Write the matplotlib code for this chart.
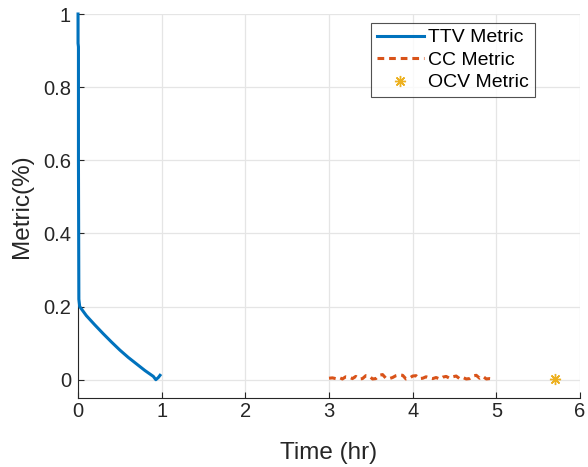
import matplotlib
matplotlib.use("Agg")
import matplotlib.pyplot as plt
import numpy as np

plt.rcParams['font.family'] = ['Liberation Sans', 'DejaVu Sans']

# TTV metric
ttv_time = [0.0, 0.0, 0.005, 0.005, 0.01, 0.02, 0.1, 0.2, 0.3, 0.4, 0.5, 0.6, 0.7, 0.8, 0.9, 0.93, 0.96, 0.98]
ttv_val = [1.0, 0.92, 0.91, 0.6, 0.22, 0.2, 0.175, 0.15, 0.126, 0.103, 0.081, 0.061, 0.043, 0.025, 0.009, 0.0, 0.006, 0.012]

# CC metric
cc_time = [3.00, 3.04, 3.08, 3.12, 3.16, 3.20, 3.24, 3.28, 3.32, 3.36, 3.40, 3.44, 3.48, 3.52,
           3.56, 3.60, 3.64, 3.68, 3.72, 3.76, 3.80, 3.84, 3.88, 3.92, 3.96, 4.00, 4.04, 4.08,
           4.12, 4.16, 4.20, 4.24, 4.28, 4.32, 4.36, 4.40, 4.44, 4.48, 4.52, 4.56, 4.60, 4.64,
           4.68, 4.72, 4.76, 4.80, 4.84, 4.88, 4.92, 4.96]
cc_val = [0.004, 0.005, 0.003, 0.006, 0.002, 0.008, 0.007, 0.003, 0.009, 0.002, 0.003, 0.011,
          0.010, 0.002, 0.003, 0.012, 0.014, 0.004, 0.003, 0.006, 0.011, 0.013, 0.012, 0.002,
          0.004, 0.010, 0.011, 0.003, 0.004, 0.008, 0.005, 0.003, 0.006, 0.002, 0.007, 0.009,
          0.004, 0.008, 0.010, 0.003, 0.006, 0.002, 0.003, 0.010, 0.012, 0.004, 0.009, 0.002,
          0.003, 0.002]

# OCV metric
ocv_time = [5.7]
ocv_val = [0.003]

xticks = [0, 1, 2, 3, 4, 5, 6]
yticks = [0, 0.2, 0.4, 0.6, 0.8, 1]
yticklabels = ['0', '0.2', '0.4', '0.6', '0.8', '1']

fig = plt.figure(figsize=(5.88, 4.67), dpi=100)
ax = fig.add_axes([0.1327, 0.1478, 0.8537, 0.8222])

ax.plot(ttv_time, ttv_val, color='#0072BD', lw=2.2, label='TTV Metric',
        solid_joinstyle='round', clip_on=False, zorder=3)
ax.plot(cc_time, cc_val, color='#D95319', lw=2.2, linestyle=(0, (2.2, 1.6)), label='CC Metric', zorder=3)
ax.plot(ocv_time, ocv_val, linestyle='none', marker=(8, 2, 0), color='#EDB120', markersize=8,
        markeredgewidth=1.0, label='OCV Metric', zorder=3)

ax.set_xlim(0, 6)
ax.set_ylim(-0.05, 1)
ax.set_xticks(xticks)
ax.set_yticks(yticks)
ax.set_yticklabels(yticklabels)
ax.grid(True, color='#e5e5e5', lw=0.9)
ax.set_axisbelow(True)
for s in ['top', 'right']:
    ax.spines[s].set_visible(False)
for s in ['left', 'bottom']:
    ax.spines[s].set_color('#262626')
    ax.spines[s].set_linewidth(0.8)
ax.tick_params(direction='in', length=4, width=0.8, colors='#262626', labelsize=14.5)
ax.tick_params(axis='x', pad=3)
ax.tick_params(axis='y', pad=5)
ax.set_xlabel('Time (hr)', fontsize=17.5, color='#262626', labelpad=15)
ax.set_ylabel('Metric(%)', fontsize=17.5, color='#262626', labelpad=7)

leg = ax.legend(loc='upper right', bbox_to_anchor=(535 / 588, 1 - 23 / 467),
                bbox_transform=fig.transFigure, fontsize=14, frameon=True,
                fancybox=False, edgecolor='#262626', handlelength=2.4, handletextpad=0.25,
                borderpad=0.3, labelspacing=0.25, borderaxespad=0)
leg.get_frame().set_linewidth(0.8)

fig.savefig('out.png', dpi=100)
